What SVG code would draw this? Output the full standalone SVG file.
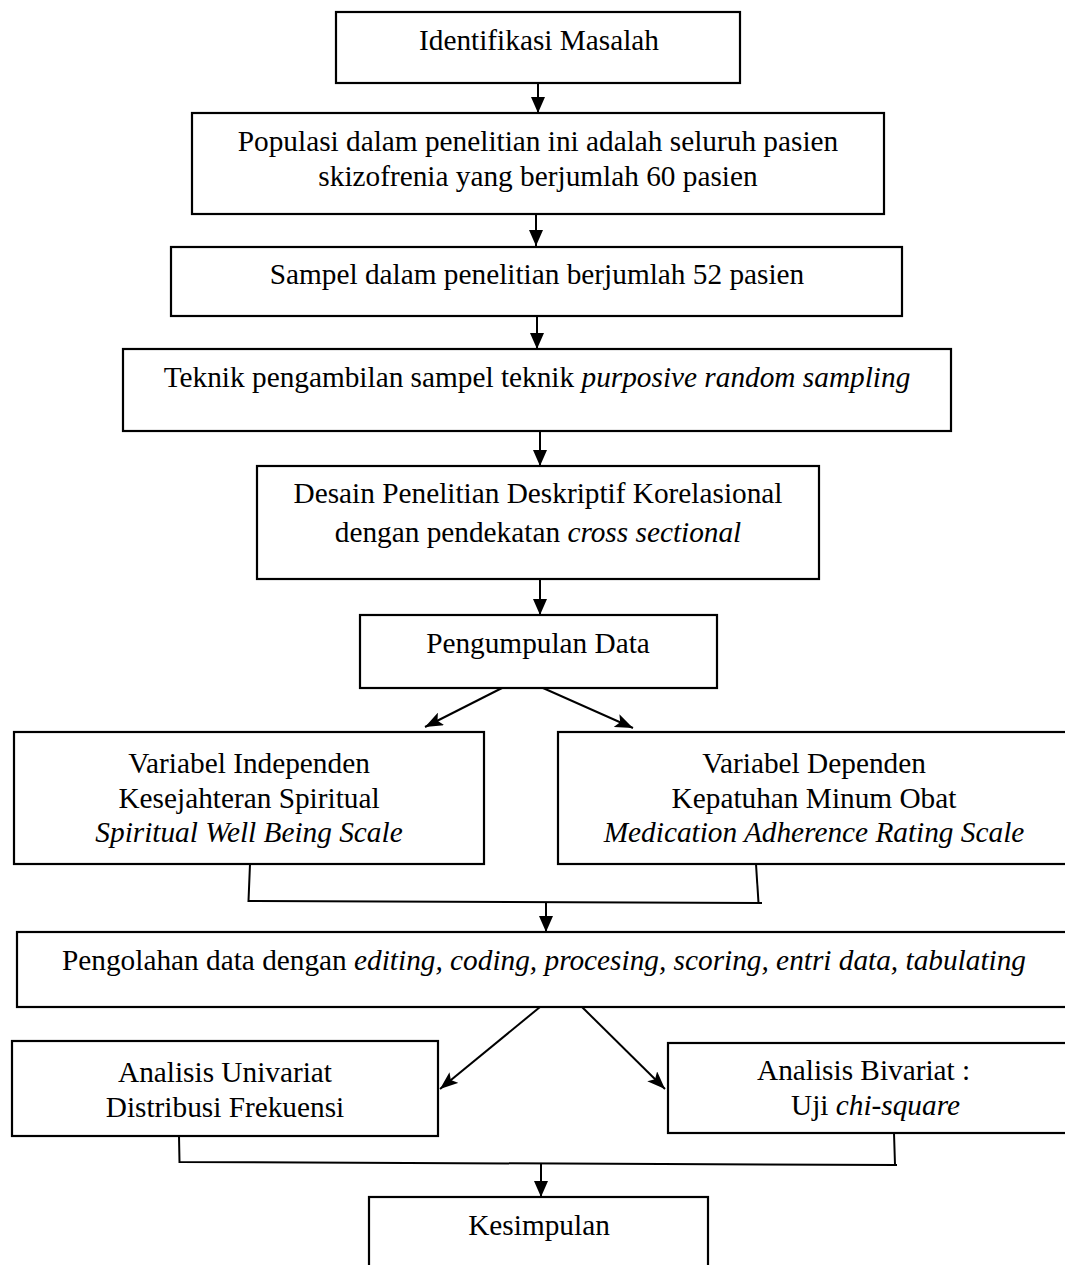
<svg xmlns="http://www.w3.org/2000/svg" width="1065" height="1265" viewBox="0 0 1065 1265">
  <style>
    .box { fill: #ffffff; stroke: #000000; stroke-width: 2.2; }
    .lbl { font-family: "Liberation Serif", "Times New Roman", serif; font-size: 29.3px; fill: #000000; }
    .c { text-anchor: middle; }
    .it { font-style: italic; }
    .ln { fill: none; stroke: #000000; stroke-width: 2; }
  </style>
  <defs>
    <marker id="tri" viewBox="0 0 16 14" markerUnits="userSpaceOnUse" markerWidth="16" markerHeight="14" refX="16" refY="7" orient="auto">
      <path d="M0,0 L16,7 L0,14 z" fill="#000000"/>
    </marker>
    <marker id="stealth" viewBox="0 0 18 14" markerUnits="userSpaceOnUse" markerWidth="18" markerHeight="14" refX="18" refY="7" orient="auto">
      <path d="M0,0 L18,7 L0,14 L4,7 z" fill="#000000"/>
    </marker>
  </defs>
  <rect x="0" y="0" width="1065" height="1265" fill="#ffffff"/>

  <g id="connectors">
    <line class="ln" x1="538" y1="83" x2="538" y2="113" marker-end="url(#tri)"/>
    <line class="ln" x1="536" y1="214" x2="536" y2="246" marker-end="url(#tri)"/>
    <line class="ln" x1="537" y1="316" x2="537" y2="349" marker-end="url(#tri)"/>
    <line class="ln" x1="540" y1="431" x2="540" y2="466" marker-end="url(#tri)"/>
    <line class="ln" x1="540" y1="579" x2="540" y2="615" marker-end="url(#tri)"/>
    <line class="ln" x1="502" y1="688" x2="425" y2="727" marker-end="url(#stealth)"/>
    <line class="ln" x1="543" y1="688" x2="633" y2="728" marker-end="url(#stealth)"/>
    <polyline class="ln" points="250,864 248.5,901 762,903"/>
    <line class="ln" x1="756" y1="864" x2="758.5" y2="903"/>
    <line class="ln" x1="546" y1="902" x2="546" y2="932" marker-end="url(#tri)"/>
    <line class="ln" x1="540" y1="1007" x2="440" y2="1089" marker-end="url(#stealth)"/>
    <line class="ln" x1="582" y1="1007" x2="665" y2="1089" marker-end="url(#stealth)"/>
    <polyline class="ln" points="179,1136 179.5,1162 897,1165"/>
    <line class="ln" x1="894" y1="1133" x2="895" y2="1165"/>
    <line class="ln" x1="541" y1="1164" x2="541" y2="1197" marker-end="url(#tri)"/>
  </g>

  <g id="n1">
    <rect class="box" x="336" y="12" width="404" height="71"/>
    <text class="lbl c" x="539" y="50">Identifikasi Masalah</text>
  </g>
  <g id="n2">
    <rect class="box" x="192" y="113" width="692" height="101"/>
    <text class="lbl c" x="538" y="151">Populasi dalam penelitian ini adalah seluruh pasien</text>
    <text class="lbl c" x="538" y="186">skizofrenia yang berjumlah 60 pasien</text>
  </g>
  <g id="n3">
    <rect class="box" x="171" y="247" width="731" height="69"/>
    <text class="lbl c" x="537" y="284">Sampel dalam penelitian berjumlah 52 pasien</text>
  </g>
  <g id="n4">
    <rect class="box" x="123" y="349" width="828" height="82"/>
    <text class="lbl c" x="537" y="387">Teknik pengambilan sampel teknik <tspan class="it">purposive random sampling</tspan></text>
  </g>
  <g id="n5">
    <rect class="box" x="257" y="466" width="562" height="113"/>
    <text class="lbl c" x="538" y="503">Desain Penelitian Deskriptif Korelasional</text>
    <text class="lbl c" x="538" y="542">dengan pendekatan <tspan class="it">cross sectional</tspan></text>
  </g>
  <g id="n6">
    <rect class="box" x="360" y="615" width="357" height="73"/>
    <text class="lbl c" x="538" y="653">Pengumpulan Data</text>
  </g>
  <g id="n7">
    <rect class="box" x="14" y="732" width="470" height="132"/>
    <text class="lbl c" x="249" y="773">Variabel Independen</text>
    <text class="lbl c" x="249" y="808">Kesejahteran Spiritual</text>
    <text class="lbl c it" x="249" y="842">Spiritual Well Being Scale</text>
  </g>
  <g id="n8">
    <rect class="box" x="558" y="732" width="520" height="132"/>
    <text class="lbl c" x="814" y="773">Variabel Dependen</text>
    <text class="lbl c" x="814" y="808">Kepatuhan Minum Obat</text>
    <text class="lbl c it" x="814" y="842">Medication Adherence Rating Scale</text>
  </g>
  <g id="n9">
    <rect class="box" x="17" y="932" width="1060" height="75"/>
    <text class="lbl c" x="544" y="970">Pengolahan data dengan <tspan class="it">editing, coding, procesing, scoring, entri data, tabulating</tspan></text>
  </g>
  <g id="n10">
    <rect class="box" x="12" y="1041" width="426" height="95"/>
    <text class="lbl c" x="225" y="1082">Analisis Univariat</text>
    <text class="lbl c" x="225" y="1117">Distribusi Frekuensi</text>
  </g>
  <g id="n11">
    <rect class="box" x="668" y="1043" width="410" height="90"/>
    <text class="lbl" x="757" y="1080">Analisis Bivariat  :</text>
    <text class="lbl" x="791" y="1115">Uji <tspan class="it">chi-square</tspan></text>
  </g>
  <g id="n12">
    <rect class="box" x="369" y="1197" width="339" height="90"/>
    <text class="lbl c" x="539" y="1235">Kesimpulan</text>
  </g>
</svg>
